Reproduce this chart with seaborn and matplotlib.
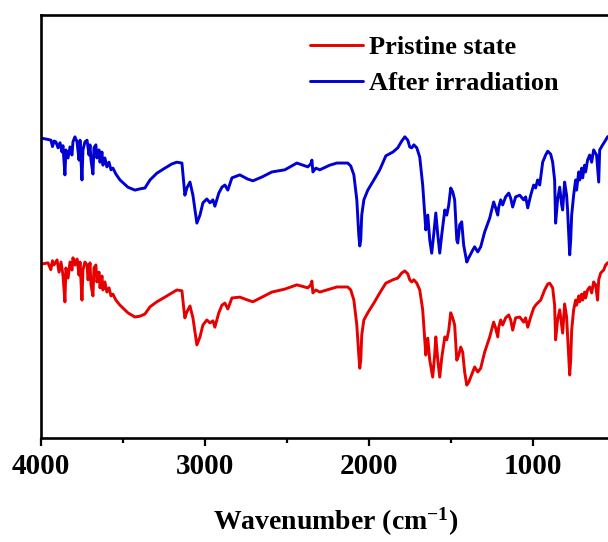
import numpy as np
import pandas as pd
import matplotlib
matplotlib.use('Agg')
import matplotlib.pyplot as plt
from matplotlib.ticker import MultipleLocator
import seaborn as sns

# wavenumber (cm-1) and transmittance (a.u.)
wn_after = [4000, 3960, 3939, 3930, 3920, 3909, 3896, 3884, 3872, 3866, 3854, 3848, 3835, 3823,
            3811, 3805, 3793, 3780, 3768, 3762, 3750, 3744, 3732, 3719, 3707, 3701, 3695, 3683,
            3677, 3665, 3659, 3646, 3640, 3628, 3622, 3610, 3598, 3585, 3573, 3561, 3543, 3518,
            3470, 3427, 3396, 3366, 3335, 3293, 3244, 3201, 3171, 3140, 3128, 3122, 3110, 3091,
            3073, 3049, 3030, 3012, 2988, 2969, 2951, 2939, 2915, 2896, 2878, 2860, 2835, 2787,
            2738, 2707, 2652, 2591, 2512, 2439, 2372, 2354, 2347, 2341, 2323, 2299, 2238, 2195,
            2128, 2110, 2091, 2073, 2061, 2055, 2049, 2043, 2030, 2006, 1969, 1933, 1896, 1853,
            1823, 1799, 1780, 1762, 1750, 1738, 1725, 1707, 1689, 1671, 1652, 1646, 1640, 1628,
            1616, 1604, 1591, 1579, 1567, 1555, 1536, 1524, 1512, 1500, 1488, 1476, 1463, 1457,
            1445, 1433, 1421, 1402, 1390, 1378, 1366, 1354, 1335, 1317, 1293, 1262, 1238, 1226,
            1213, 1207, 1195, 1183, 1165, 1146, 1134, 1122, 1104, 1079, 1055, 1043, 1030, 1012,
            994, 982, 970, 957, 939, 921, 908, 890, 878, 866, 860, 848, 835, 823,
            817, 805, 793, 787, 780, 774, 768, 762, 750, 738, 732, 719, 713, 701,
            695, 683, 677, 665, 652, 640, 628, 610, 597, 591, 573, 555, 543, 500, 450, 400]
t_after = [70.9, 70.6, 70.4, 68.9, 70.2, 70.0, 68.6, 69.8, 67.6, 69.1, 62.2, 68.1, 66.2, 68.8,
           66.9, 70.0, 71.2, 70.0, 65.7, 70.4, 61.0, 68.1, 70.0, 70.4, 66.9, 69.3, 65.7, 62.4,
           68.6, 69.3, 66.2, 68.1, 65.2, 67.6, 64.5, 66.2, 64.1, 65.2, 63.4, 63.8, 62.4, 61.0,
           59.3, 58.6, 58.9, 59.1, 61.0, 62.6, 63.8, 64.8, 65.2, 65.0, 59.8, 57.4, 59.1, 60.5,
           57.4, 50.8, 52.7, 55.6, 56.5, 55.6, 56.3, 54.8, 57.9, 59.3, 59.8, 58.6, 61.5, 62.2,
           61.2, 60.8, 61.7, 62.9, 63.4, 65.0, 64.1, 64.8, 65.7, 62.9, 63.8, 63.4, 64.5, 65.0,
           65.0, 64.3, 62.2, 56.3, 48.0, 45.4, 46.8, 52.7, 56.3, 58.6, 61.0, 63.4, 66.7, 67.6,
           68.6, 70.2, 71.2, 70.4, 68.8, 68.6, 69.3, 68.6, 66.4, 59.8, 49.2, 52.0, 52.7, 46.8,
           43.7, 48.0, 53.2, 48.0, 43.7, 48.0, 53.9, 52.7, 55.1, 59.1, 58.2, 56.3, 46.8, 46.1,
           50.4, 51.1, 45.6, 41.6, 42.6, 43.5, 44.4, 45.2, 44.0, 45.2, 48.7, 52.0, 55.8, 54.4,
           52.7, 54.6, 56.3, 55.1, 57.0, 57.9, 56.7, 54.6, 57.0, 57.4, 56.3, 57.0, 54.4, 57.4,
           59.8, 59.1, 61.0, 59.8, 65.2, 66.9, 67.8, 67.1, 65.2, 61.0, 50.8, 56.3, 59.3, 55.1,
           53.9, 60.5, 57.4, 53.9, 48.0, 43.3, 46.8, 52.7, 57.4, 61.0, 58.6, 62.9, 61.0, 63.8,
           61.5, 64.5, 62.9, 65.7, 66.9, 65.2, 68.1, 66.9, 60.5, 68.1, 69.3, 70.4, 71.2, 72.0, 72.3, 72.5]

wn_pristine = [4000, 3957, 3940, 3930, 3921, 3902, 3890, 3878, 3866, 3854, 3848, 3835, 3823, 3811,
               3805, 3793, 3780, 3768, 3762, 3750, 3744, 3732, 3719, 3713, 3701, 3695, 3683, 3677,
               3665, 3659, 3646, 3640, 3628, 3622, 3610, 3598, 3585, 3573, 3561, 3543, 3518, 3470,
               3427, 3396, 3366, 3335, 3293, 3244, 3201, 3171, 3140, 3128, 3122, 3110, 3091, 3073,
               3049, 3030, 3012, 2988, 2969, 2951, 2939, 2915, 2896, 2878, 2860, 2835, 2787, 2738,
               2707, 2652, 2591, 2512, 2439, 2372, 2354, 2347, 2341, 2323, 2299, 2238, 2195, 2128,
               2110, 2091, 2073, 2061, 2055, 2049, 2043, 2030, 2006, 1969, 1933, 1896, 1853, 1823,
               1799, 1780, 1762, 1750, 1738, 1725, 1707, 1689, 1671, 1652, 1646, 1640, 1628, 1610,
               1598, 1591, 1579, 1567, 1555, 1536, 1524, 1512, 1500, 1488, 1476, 1463, 1451, 1439,
               1427, 1415, 1402, 1390, 1378, 1366, 1354, 1335, 1317, 1293, 1262, 1238, 1226, 1213,
               1207, 1195, 1183, 1165, 1146, 1134, 1122, 1104, 1079, 1055, 1043, 1030, 1012, 994,
               982, 970, 951, 927, 908, 896, 878, 866, 860, 848, 835, 823, 817, 805,
               793, 787, 780, 774, 768, 762, 750, 738, 732, 719, 713, 701, 695, 683,
               677, 665, 652, 640, 628, 616, 604, 597, 585, 567, 555, 543, 500, 450, 400]
t_pristine = [41.1, 41.4, 39.8, 41.9, 40.9, 42.1, 39.2, 41.6, 38.5, 32.2, 40.2, 37.8, 41.6, 39.7,
              42.6, 40.9, 42.3, 38.5, 41.6, 32.6, 39.7, 41.6, 40.9, 37.4, 41.4, 36.2, 33.6, 40.2,
              40.9, 36.9, 39.2, 35.5, 38.3, 35.0, 36.9, 34.5, 35.5, 33.6, 34.0, 32.6, 31.4, 29.6,
              28.6, 28.8, 29.3, 31.0, 32.2, 33.3, 34.3, 35.0, 34.8, 30.3, 28.4, 29.8, 31.2, 28.4,
              22.0, 23.9, 26.7, 27.9, 27.2, 27.7, 26.2, 29.6, 31.4, 31.9, 30.5, 33.1, 33.3, 32.6,
              32.2, 33.3, 34.5, 35.2, 36.2, 35.5, 36.2, 37.1, 34.3, 35.0, 34.5, 35.2, 35.7, 35.7,
              35.0, 32.6, 26.7, 19.6, 16.5, 18.4, 24.3, 27.9, 29.6, 31.9, 34.3, 36.6, 37.4, 37.8,
              39.0, 39.5, 38.8, 37.4, 36.9, 37.4, 36.6, 35.0, 30.3, 19.6, 23.2, 23.6, 18.4, 14.4,
              19.6, 23.9, 18.4, 14.4, 18.9, 23.9, 23.2, 25.5, 29.6, 28.4, 26.7, 18.4, 19.6, 21.5,
              20.3, 15.6, 12.5, 13.2, 14.4, 15.6, 16.8, 15.6, 16.5, 20.3, 23.9, 27.4, 26.0, 23.9,
              26.2, 27.9, 26.7, 28.4, 29.1, 27.9, 25.5, 28.4, 28.6, 27.4, 28.4, 26.2, 28.6, 30.7,
              31.4, 31.9, 32.6, 35.0, 36.4, 36.6, 35.5, 31.4, 23.2, 27.9, 30.3, 26.7, 24.8, 31.7,
              28.6, 24.3, 19.6, 14.9, 18.4, 25.5, 30.3, 32.6, 31.4, 33.6, 32.2, 34.0, 32.6, 34.5,
              33.1, 35.0, 35.7, 34.3, 36.9, 36.2, 32.6, 37.4, 39.0, 39.7, 40.9, 41.4, 42.0, 42.3, 42.5]

labels = ['Pristine state', 'After irradiation']
colors = ['#e60000', '#0000d2']

df = pd.concat([
    pd.DataFrame({'wn': wn_pristine, 'T': t_pristine, 'sample': labels[0]}),
    pd.DataFrame({'wn': wn_after, 'T': t_after, 'sample': labels[1]}),
])

sns.set_style('ticks')
plt.rcParams['font.family'] = ['Liberation Serif', 'DejaVu Serif']
plt.rcParams['font.weight'] = 'bold'
plt.rcParams['text.color'] = 'black'
plt.rcParams['axes.labelcolor'] = 'black'
plt.rcParams['xtick.color'] = 'black'
plt.rcParams['mathtext.fontset'] = 'custom'
plt.rcParams['mathtext.rm'] = 'Liberation Serif:bold'
plt.rcParams['mathtext.bf'] = 'Liberation Serif:bold'
plt.rcParams['mathtext.default'] = 'bf'

fig = plt.figure(figsize=(6.08, 5.42), dpi=100)
# axes runs past the right edge of the picture (cropped like the original)
ax = fig.add_axes([41 / 608, 104 / 542, 590 / 608, 423 / 542])

sns.lineplot(data=df, x='wn', y='T', hue='sample', hue_order=labels,
             palette=dict(zip(labels, colors)), estimator=None, sort=False,
             linewidth=2.1, ax=ax)

ax.set_xlim(4000, 400)
ax.set_ylim(0, 100)
ax.xaxis.set_major_locator(MultipleLocator(1000))
ax.xaxis.set_minor_locator(MultipleLocator(500))
ax.set_yticks([])
ax.set_ylabel('')
ax.set_xlabel('Wavenumber (cm$^{-1}$)', fontsize=20, fontweight='bold', labelpad=18)
ax.tick_params(axis='x', which='major', direction='out', length=6, width=1.6,
               labelsize=21, pad=5, colors='black')
ax.tick_params(axis='x', which='minor', direction='out', length=3.5, width=1.6, colors='black')
for lbl in ax.get_xticklabels():
    lbl.set_fontweight('bold')
for sp in ax.spines.values():
    sp.set_linewidth(1.9)
    sp.set_color('black')

ax.legend(loc='upper left', bbox_to_anchor=(310 / 608, 1 - 36 / 542),
          bbox_transform=fig.transFigure, frameon=False,
          handlelength=2.0, handletextpad=0.25, labelspacing=0.45,
          borderpad=0, borderaxespad=0, prop={'weight': 'bold', 'size': 19})

fig.savefig('out.png', dpi=100)
